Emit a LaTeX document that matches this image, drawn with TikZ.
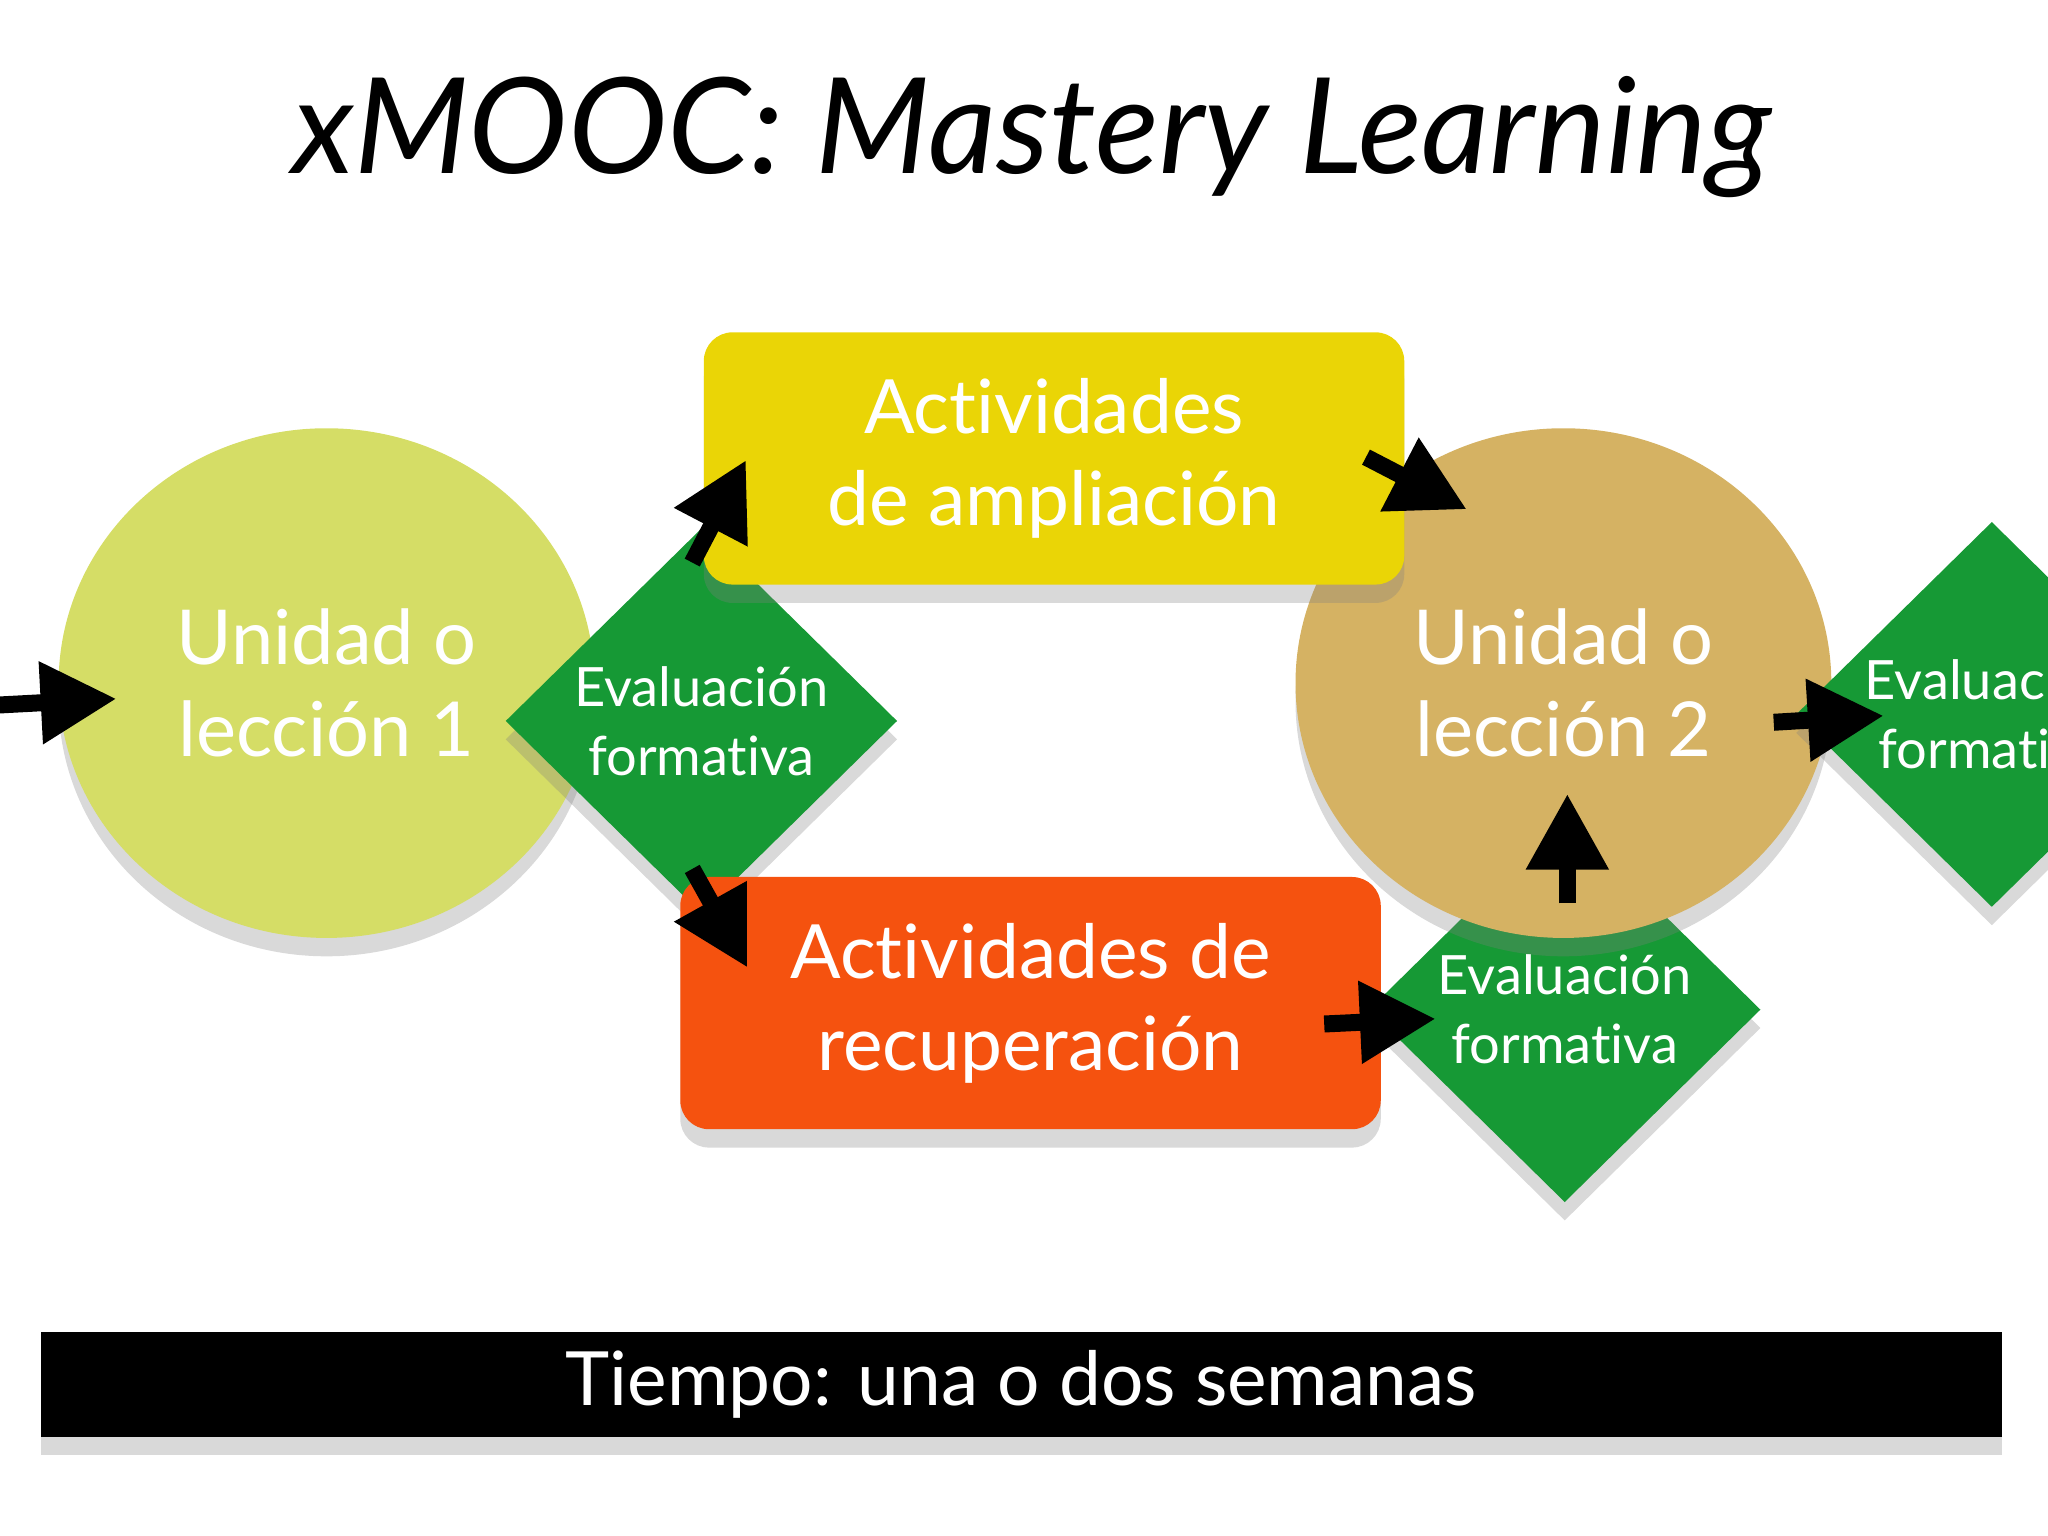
\documentclass[tikz,border=0pt]{standalone}
\usepackage{fontspec}
\setmainfont{Lato}[Ligatures=NoCommon]
\usepackage{tikz}
\usetikzlibrary{calc,shapes.geometric,arrows.meta,shadows}

\definecolor{lima}{HTML}{D5DD66}
\definecolor{arena}{HTML}{D5B263}
\definecolor{amarillo}{HTML}{EAD506}
\definecolor{naranja}{HTML}{F5520F}
\definecolor{verde}{HTML}{169935}

\begin{document}
\begin{tikzpicture}[x=0.01cm, y=-0.01cm,
    sombra/.style={drop shadow={shadow xshift=0pt, shadow yshift=-4pt, opacity=0.3}},
    unidad/.style={ellipse, minimum width=4.1cm, minimum height=3.9cm, text=white, align=center,
      font=\fontsize{16.5}{20}\selectfont, sombra},
    evalua/.style={diamond, fill=verde, minimum width=3.0cm, minimum height=2.95cm, inner sep=0pt,
      text=white, align=center, font=\fontsize{11.8}{15}\selectfont, sombra},
    caja/.style={rectangle, rounded corners=0.22cm, minimum width=5.36cm, minimum height=1.93cm,
      text=white, align=center, font=\fontsize{16.3}{20}\selectfont, sombra},
    flecha/.style={line width=0.13cm, -{Triangle[length=0.58cm, width=0.6cm]}}]
    \useasboundingbox (0,0) rectangle (1568,1176);
    \clip (0,0) rectangle (1568,1176);

    \node[font=\fontsize{29}{36}\selectfont\itshape] (titulo) at (790,105) {xMOOC: Mastery Learning};

    \node[unidad, fill=lima] (u1) at (250,523) {Unidad o\\lección 1};
    \node[evalua] (d1) at (537,552) {Evaluación\\formativa};
    \node[evalua] (d2) at (1198,773) {Evaluación\\formativa};
    \node[unidad, fill=arena] (u2) at (1197,523) {Unidad o\\lección 2};
    \node[caja, fill=amarillo] (amp) at (807,351) {Actividades\\de ampliación};
    \node[caja, fill=naranja] (rec) at (789,768) {Actividades de\\recuperación};
    \node[evalua] (d3) at (1525,547) {Evaluación\\formativa};

    \node[fill=black, minimum width=15.01cm, minimum height=0.8cm, text=white,
      font=\fontsize{16.3}{20}\selectfont, sombra] (tiempo) at (782,1060) {Tiempo: una o dos semanas};

    \coordinate (entrada) at (-5,540);
    \draw[flecha] (entrada) -- ($(u1.west)+(45,12)$);
    \draw[flecha] ($(d1.north)+(-7,27)$) -- ($(amp.south west)+(33,-96)$);
    \draw[flecha] ($(amp.east)+(-30,-1)$) -- ($(u2.center)+(-74,-133)$);
    \draw[flecha] ($(d1.south)+(-7,-35)$) -- ($(rec.north west)+(52,70)$);
    \draw[flecha] ($(rec.east)+(-44,16)$) -- ($(d2.west)+(52,7)$);
    \draw[flecha] ($(d2.north)+(2,67)$) -- ($(u2.south)+(3,-111)$);
    \draw[flecha] ($(u2.center)+(161,30)$) -- ($(d3.west)+(68,1)$);
  \end{tikzpicture}
\end{document}
